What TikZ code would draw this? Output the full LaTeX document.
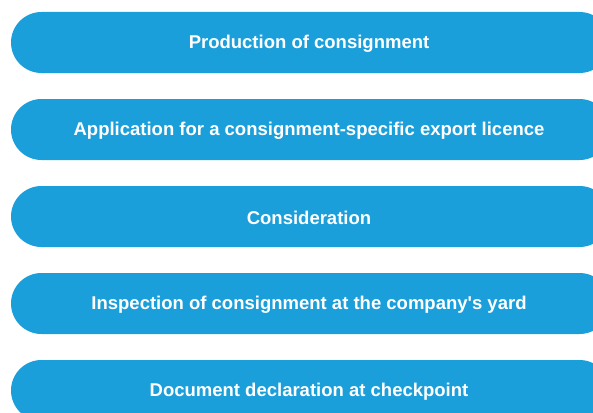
\documentclass[tikz,border=0pt]{standalone}
\usepackage{fontspec}
\setmainfont{Liberation Sans}
\definecolor{pillblue}{RGB}{26,159,219}
\newcommand{\pilltext}[1]{\hspace*{-3pt}\raisebox{-1.2pt}[\height][\depth]{#1}}
\begin{document}
\begin{tikzpicture}[x=1pt,y=1pt,
  pill/.style={fill=pillblue,draw=none,rounded corners=30.5pt,minimum width=599pt,minimum height=61pt,text=white,font=\fontsize{18.5}{22}\selectfont\bfseries,inner sep=0pt}]
\useasboundingbox (0,0) rectangle (593,-412);
\clip (0,0) rectangle (593,-412);
\node[pill] (p1) at (310.5,-42.5) {\pilltext{Production of consignment}};
\node[pill] (p2) at (310.5,-129.5) {\pilltext{Application for a consignment-specific export licence}};
\node[pill] (p3) at (310.5,-216.5) {\pilltext{Consideration}};
\node[pill] (p4) at (310.5,-303.5) {\pilltext{Inspection of consignment at the company\textquotesingle s yard}};
\node[pill] (p5) at (310.5,-390.5) {\pilltext{Document declaration at checkpoint}};
\end{tikzpicture}
\end{document}
